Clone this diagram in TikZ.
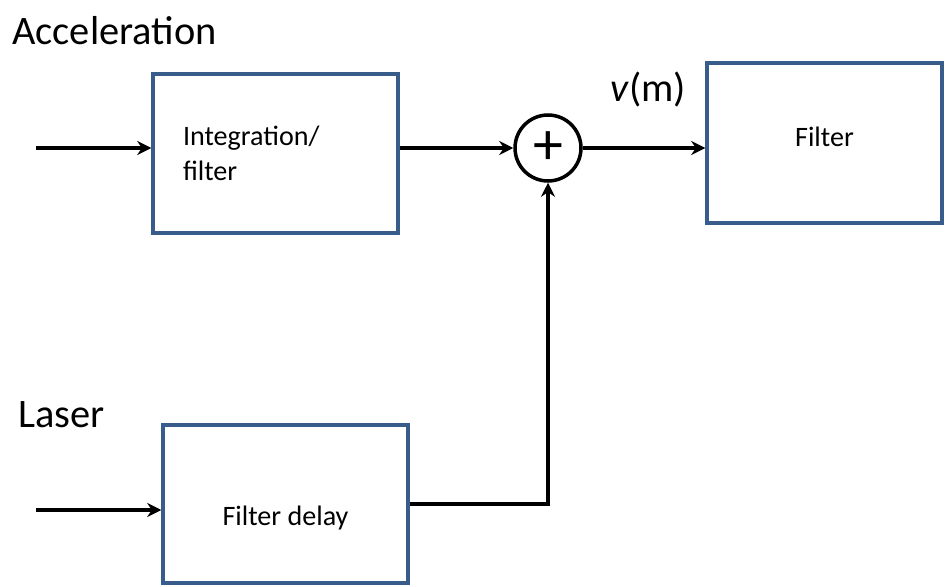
\documentclass[tikz,border=0pt]{standalone}
\usepackage{fontspec}
\setmainfont{Carlito}
\usetikzlibrary{arrows.meta, positioning, calc}
\definecolor{BoxBlue}{RGB}{56,93,138}

\begin{document}
\begin{tikzpicture}[>={Stealth[length=8pt,width=8pt]}, x=0.02cm, y=-0.02cm,
    blockbox/.style={draw=BoxBlue, line width=2pt, fill=white, font=\fontsize{16}{20}\selectfont},
    sig/.style={->, line width=2.3pt},
    biglabel/.style={inner sep=0pt, anchor=base west, font=\fontsize{23}{27}\selectfont}]
        \useasboundingbox (0,0) rectangle (945,587);
        % Blocks
        \node[blockbox, text width=3.7cm, inner xsep=0.6cm, minimum height=3.18cm, align=left] (integ) at (275.5,153.5) {Integration/\\filter};
        \node[blockbox, minimum width=4.9cm, minimum height=3.16cm, text height=0.95cm] (delay) at (285.5,504) {Filter delay};
        \node[blockbox, minimum width=4.7cm, minimum height=3.2cm, text depth=0.24cm] (filt) at (824.5,143) {Filter};
        \node[draw, circle, line width=2pt, minimum size=1.32cm, inner sep=0pt, font=\fontsize{34}{34}\selectfont] (sum) at (548,148) {+};
        % Labels
        \node[biglabel] (acctxt) at (12,45) {Acceleration};
        \node[biglabel] (lastxt) at (18,427) {Laser};
        \node[biglabel] (vtxt) at (610,102) {\textit{v}(m)};
        % Signals
        \coordinate (accin) at (36,148);
        \coordinate (lasin) at (36,510);
        \draw[sig] (accin) -- (integ.west |- accin);
        \draw[sig] (integ.east |- sum.west) -- (sum.west);
        \draw[sig] (sum.east) -- (filt.west |- sum.east);
        \draw[sig] (lasin) -- (delay.west |- lasin);
        \draw[sig] (delay.east) -| (sum.south);
    \end{tikzpicture}
\end{document}
